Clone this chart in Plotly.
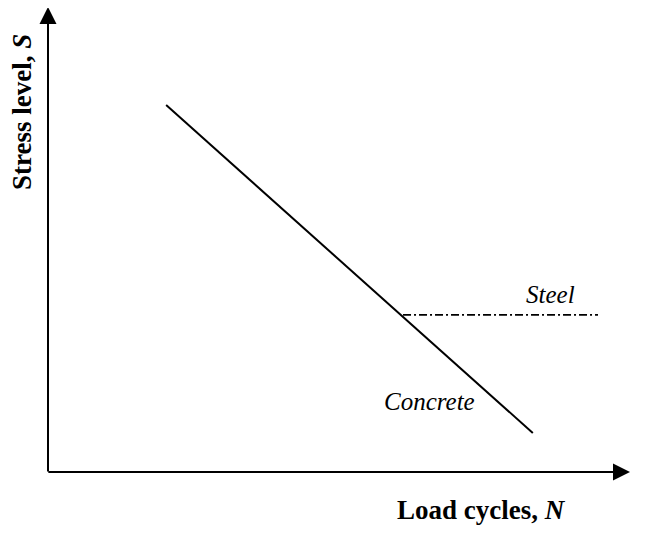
import plotly.graph_objects as go

# Conceptual data (log N units vs S units)
concrete_N = [2.03, 8.33]
concrete_S = [7.89, 0.84]
steel_N = [6.10, 9.45]
steel_S = [3.38, 3.38]

x_axis_end = 10.0
y_axis_end = 10.0

labels = {"x": "Load cycles, <i>N</i>", "y": "Stress level, <i>S</i>",
          "steel": "<i>Steel</i>", "concrete": "<i>Concrete</i>"}

fig = go.Figure()
fig.add_trace(go.Scatter(x=concrete_N, y=concrete_S, mode="lines",
                         line=dict(color="black", width=2), showlegend=False))
fig.add_trace(go.Scatter(x=steel_N, y=steel_S, mode="lines",
                         line=dict(color="black", width=1.7, dash="8px,3px,2px,3px"),
                         showlegend=False))

font_serif = "Liberation Serif, Times New Roman, serif"

# axes with arrows
fig.add_annotation(x=x_axis_end, y=0, ax=-0.02, ay=0, xref="x", yref="y", axref="x", ayref="y",
                   text="", showarrow=True, arrowhead=2, arrowsize=1.7, arrowwidth=2, arrowcolor="black")
fig.add_annotation(x=0, y=y_axis_end, ax=0, ay=-0.02, xref="x", yref="y", axref="x", ayref="y",
                   text="", showarrow=True, arrowhead=2, arrowsize=1.7, arrowwidth=2, arrowcolor="black")

fig.add_annotation(x=7.44, y=-0.82, text="<b>" + labels["x"] + "</b>", showarrow=False,
                   font=dict(family=font_serif, size=27, color="black"))
fig.add_annotation(x=-0.447, y=7.74, text="<b>" + labels["y"] + "</b>", showarrow=False, textangle=-90,
                   font=dict(family=font_serif, size=27, color="black"))
fig.add_annotation(x=8.63, y=3.81, text=labels["steel"], showarrow=False,
                   font=dict(family=font_serif, size=25, color="black"))
fig.add_annotation(x=6.55, y=1.51, text=labels["concrete"], showarrow=False,
                   font=dict(family=font_serif, size=25, color="black"))

fig.update_layout(width=660, height=536, margin=dict(l=0, r=0, t=0, b=0),
                  paper_bgcolor="white", plot_bgcolor="white")
fig.update_xaxes(range=[-40/58.2, 620/58.2], visible=False)
fig.update_yaxes(range=[-72/46.5, 464/46.5], visible=False)

fig.write_html("out.html")
